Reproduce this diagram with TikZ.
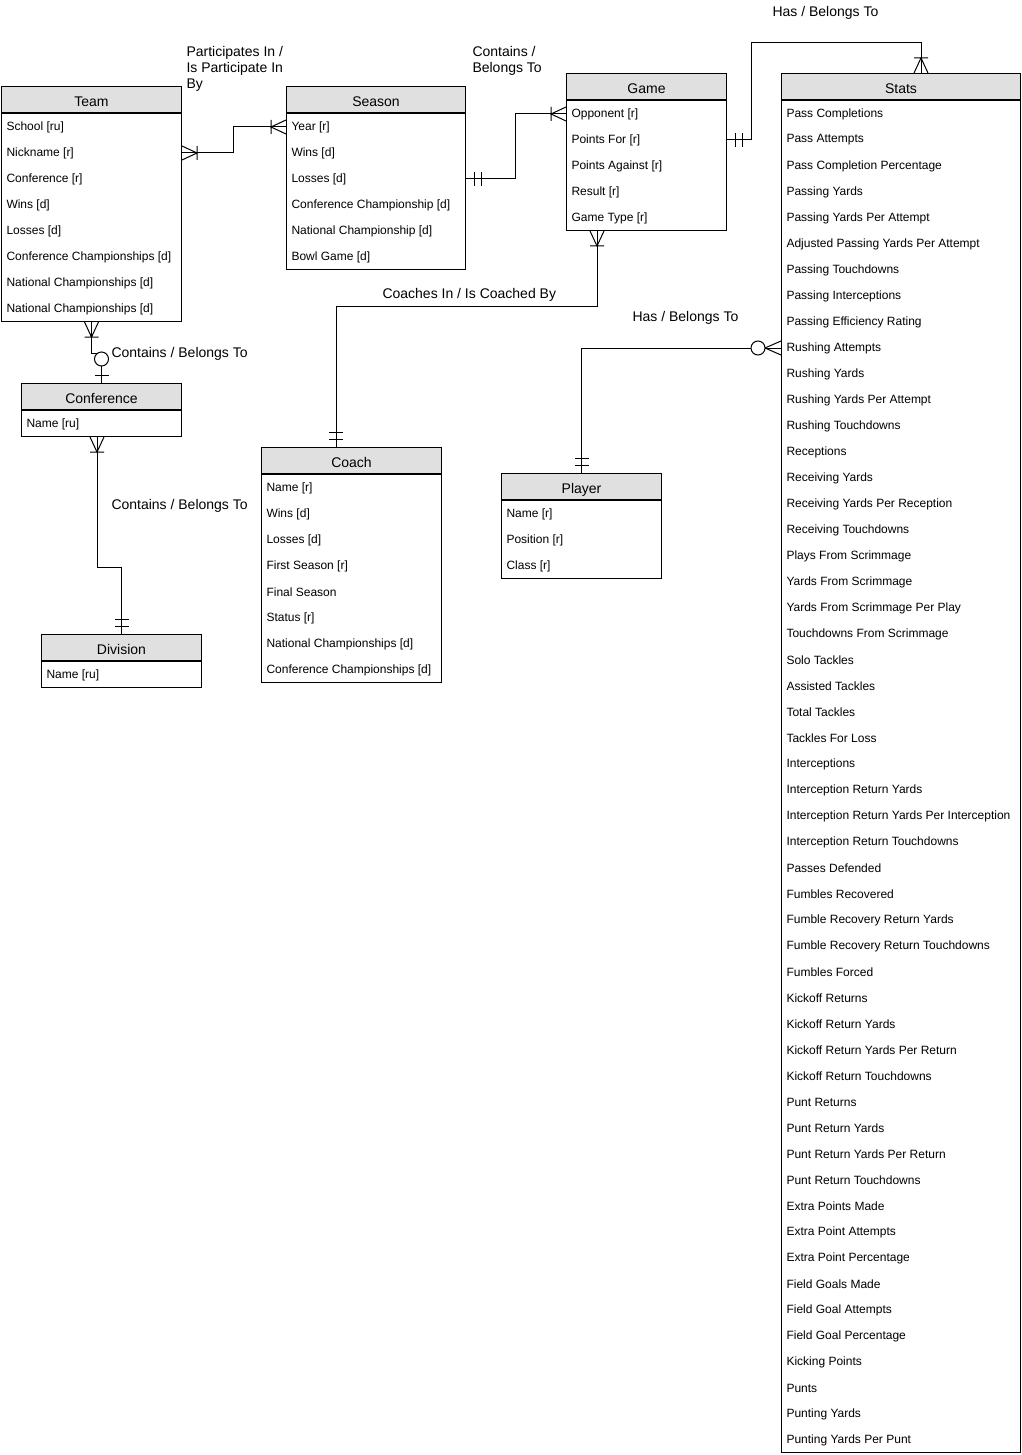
\documentclass[tikz,border=0pt]{standalone}
\usepackage{fontspec}
\setmainfont{Liberation Sans}
\definecolor{hdrgray}{RGB}{224,224,224}

\tikzset{every picture/.style={line width=0.75pt}}
\tikzset{
  enthead/.style={draw, fill=hdrgray, inner sep=0pt, minimum height=26*0.75pt, text height=10.5pt, text depth=0pt, font=\fontsize{10.5}{12}\selectfont},
  entbody/.style={draw, fill=white, inner sep=0pt},
  entrow/.style={anchor=west, inner sep=0pt, font=\fontsize{9}{11}\selectfont},
  lbl/.style={inner sep=0pt, font=\fontsize{10.5}{12}\selectfont},
  pics/crow one/.style={code={\draw (0,-7) -- (15,0) -- (0,7) (15,-7) -- (15,7);}},
  pics/only one/.style={code={\draw (8,-7) -- (8,7) (15,-7) -- (15,7);}},
  pics/crow zero/.style={code={\draw (0,-7) -- (16,0) -- (0,7); \draw[fill=white] (23,0) circle [radius=7];}},
  pics/zero one/.style={code={\draw (8,-7) -- (8,7); \draw[fill=white] (24,0) circle [radius=7];}},
}

% entity: name, title, left, top, width, rows, attributes
\newcommand\entity[7]{%
  \node[enthead, minimum width=#5*0.75pt, anchor=north west] (#1) at (#3,#4) {#2};
  \node[entbody, minimum width=#5*0.75pt, minimum height=#6*26*0.75pt, anchor=north] (#1-body) at (#1.south) {};
  \foreach \attr [count=\i] in {#7}
    \node[entrow] (#1-\i) at ({#3+5},{#4+41+(\i-1)*26}) {\attr};
}

\begin{document}
\begin{tikzpicture}[x=0.75pt,y=0.75pt,yscale=-1,xscale=1]
\useasboundingbox (0,0) rectangle (1021,1455);

%Entities
\entity{team}{Team}{1}{86}{180}{8}{School [ru],Nickname [r],Conference [r],Wins [d],Losses [d],Conference Championships [d],National Championships [d],National Championships [d]}
\entity{season}{Season}{286}{86}{179}{6}{Year [r],Wins [d],Losses [d],Conference Championship [d],National Championship [d],Bowl Game [d]}
\entity{game}{Game}{566}{73}{160}{5}{Opponent [r],Points For [r],Points Against [r],Result [r],Game Type [r]}
\entity{stats}{Stats}{781}{73}{239}{52}{Pass Completions,Pass Attempts,Pass Completion Percentage,Passing Yards,Passing Yards Per Attempt,Adjusted Passing Yards Per Attempt,Passing Touchdowns,Passing Interceptions,Passing Efficiency Rating,Rushing Attempts,Rushing Yards,Rushing Yards Per Attempt,Rushing Touchdowns,Receptions,Receiving Yards,Receiving Yards Per Reception,Receiving Touchdowns,Plays From Scrimmage,Yards From Scrimmage,Yards From Scrimmage Per Play,Touchdowns From Scrimmage,Solo Tackles,Assisted Tackles,Total Tackles,Tackles For Loss,Interceptions,Interception Return Yards,Interception Return Yards Per Interception,Interception Return Touchdowns,Passes Defended,Fumbles Recovered,Fumble Recovery Return Yards,Fumble Recovery Return Touchdowns,Fumbles Forced,Kickoff Returns,Kickoff Return Yards,Kickoff Return Yards Per Return,Kickoff Return Touchdowns,Punt Returns,Punt Return Yards,Punt Return Yards Per Return,Punt Return Touchdowns,Extra Points Made,Extra Point Attempts,Extra Point Percentage,Field Goals Made,Field Goal Attempts,Field Goal Percentage,Kicking Points,Punts,Punting Yards,Punting Yards Per Punt}
\entity{conference}{Conference}{21}{383}{160}{1}{Name [ru]}
\entity{division}{Division}{41}{634}{160}{1}{Name [ru]}
\entity{coach}{Coach}{261}{447}{180}{8}{Name [r],Wins [d],Losses [d],First Season [r],Final Season,Status [r],National Championships [d],Conference Championships [d]}
\entity{player}{Player}{501}{473}{160}{3}{Name [r],Position [r],Class [r]}

%Bend points
\coordinate (ts) at (233,0);
\coordinate (sg) at (515,0);
\coordinate (gs-a) at (751,43);
\coordinate (gs-b) at (921,43);
\coordinate (gc-a) at (597,306);
\coordinate (gc-b) at (336,306);
\coordinate (cd) at (97,567);

%Connectors
\draw (team-body.east |- team-2) -| (ts |- season-1) -- (season-body.west |- season-1);
\draw (season-body.east |- season-3) -| (sg |- game-1) -- (game-body.west |- game-1);
\draw (game-body.east |- game-2) -| (gs-a) -- (gs-b) -- (gs-b |- stats.north);
\draw (gc-a |- game-body.south) -- (gc-a) -- (gc-b) -- (gc-b |- coach.north);
\draw (stats-body.west |- stats-10) -| (player.north);
\draw (team-body.south) -- ++(0,31) -| (conference.north);
\draw (cd |- conference-body.south) -- (cd) -| (division.north);

%Ends
\pic at (team-body.east |- team-2) {crow one};
\pic[rotate=180] at (season-body.west |- season-1) {crow one};
\pic at (season-body.east |- season-3) {only one};
\pic[rotate=180] at (game-body.west |- game-1) {crow one};
\pic at (game-body.east |- game-2) {only one};
\pic[rotate=90] at (gs-b |- stats.north) {crow one};
\pic[rotate=-90] at (gc-a |- game-body.south) {crow one};
\pic[rotate=90] at (gc-b |- coach.north) {only one};
\pic[rotate=180] at (stats-body.west |- stats-10) {crow zero};
\pic[rotate=90] at (player.north) {only one};
\pic[rotate=-90] at (team-body.south) {crow one};
\pic[rotate=90] at (conference.north) {zero one};
\pic[rotate=-90] at (cd |- conference-body.south) {crow one};
\pic[rotate=90] at (division.north) {only one};

% Text Node
\node[lbl, align=left, anchor=north west] (ts-lbl) at (186,46) {Participates In /\\Is Participate In\\By};
\node[lbl, align=left, anchor=north west] (sg-lbl) at (472,46) {Contains /\\Belongs To};
\node[lbl, anchor=west] (gs-lbl) at (772,13) {Has / Belongs To};
\node[lbl, anchor=west] (gc-lbl) at (382,295) {Coaches In / Is Coached By};
\node[lbl, anchor=west] (sp-lbl) at (632,318) {Has / Belongs To};
\node[lbl, anchor=west] (tc-lbl) at (111,354) {Contains / Belongs To};
\node[lbl, anchor=west] (cd-lbl) at (111,506) {Contains / Belongs To};

\end{tikzpicture}
\end{document}
